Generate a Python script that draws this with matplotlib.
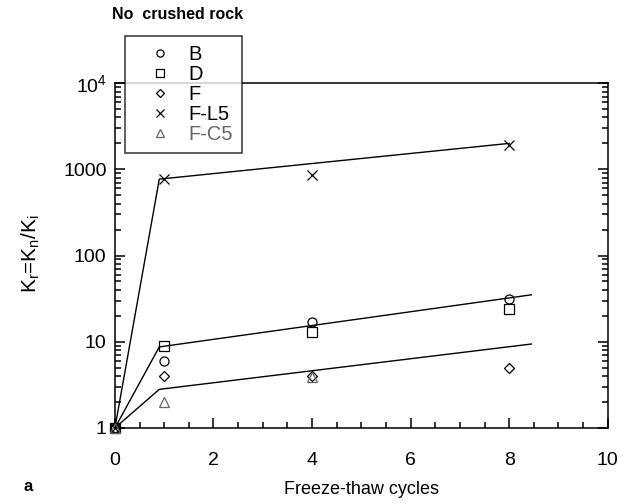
import matplotlib
matplotlib.use('Agg')
import matplotlib.pyplot as plt
from matplotlib.ticker import FixedLocator, FuncFormatter, LogLocator, MultipleLocator

plt.rcParams['font.family'] = ['Liberation Sans', 'DejaVu Sans']
plt.rcParams['mathtext.fontset'] = 'custom'
plt.rcParams['mathtext.rm'] = 'Liberation Sans'
plt.rcParams['mathtext.it'] = 'Liberation Sans'

# measured K_r = K_n / K_i after freeze-thaw cycles
cycles = [0, 1, 4, 8]
kr_B = [1, 6, 17, 31]
kr_D = [1, 9, 13, 24]
kr_F = [1, 4, 4, 5]
kr_FL5 = [1, 780, 860, 1900]
cycles_FC5 = [0, 1, 4]
kr_FC5 = [1, 2, 3.9]

# fitted trend lines
fit_top_x = [0, 0.9, 8.0]
fit_top_y = [1, 770, 2000]
fit_mid_x = [0, 0.9, 8.45]
fit_mid_y = [1, 8.7, 35]
fit_low_x = [0, 0.9, 8.45]
fit_low_y = [1, 2.8, 9.4]

fig = plt.figure(figsize=(6.35, 5.04), dpi=100)
ax = fig.add_axes([0.181, 0.151, 0.776, 0.684])

for fx, fy in [(fit_top_x, fit_top_y), (fit_mid_x, fit_mid_y), (fit_low_x, fit_low_y)]:
    ax.plot(fx, fy, color='black', lw=1.0, zorder=2)

kw = dict(ls='none', mfc='none', clip_on=False, zorder=3)
h1, = ax.plot(cycles, kr_B, marker='o', ms=6.5, mec='black', mew=0.9, label='B', **kw)
h2, = ax.plot(cycles, kr_D, marker='s', ms=6.5, mec='black', mew=0.9, label='D', **kw)
h3, = ax.plot(cycles, kr_F, marker='D', ms=5, mec='black', mew=0.9, label='F', **kw)
h4, = ax.plot(cycles, kr_FL5, marker='x', ms=7.5, mec='black', mew=0.9, label='F-L5', **kw)
h5, = ax.plot(cycles_FC5, kr_FC5, marker='^', ms=6.5, mec='#666666', mew=0.9, label='F-C5', **kw)

ax.set_yscale('log')
ax.set_xlim(0, 10)
ax.set_ylim(1, 1e4)

ax.xaxis.set_major_locator(MultipleLocator(2))
ax.xaxis.set_minor_locator(MultipleLocator(0.5))
ax.yaxis.set_major_locator(FixedLocator([1, 10, 100, 1000, 1e4]))
ax.yaxis.set_minor_locator(LogLocator(base=10, subs=range(2, 10)))
ylabels = {1: '1', 10: '10', 100: '100', 1000: '1000', 10000: r'10$^4$'}
ax.yaxis.set_major_formatter(FuncFormatter(lambda v, p: ylabels.get(int(round(v)), '')))
ax.yaxis.set_minor_formatter(FuncFormatter(lambda v, p: ''))

ax.tick_params(which='both', direction='in', top=False, right=True, labelsize=14, width=1.1)
ax.tick_params(which='major', length=7)
ax.tick_params(which='minor', length=4)
ax.tick_params(axis='x', which='major', pad=17)
ax.tick_params(axis='y', which='major', pad=6)
for s in ax.spines.values():
    s.set_linewidth(1.1)

ax.set_xlabel('Freeze-thaw cycles', fontsize=13, labelpad=9)
ax.set_ylabel(r'K$_r$=K$_n$/K$_i$', fontsize=15)
ax.yaxis.set_label_coords(-0.148, 0.505)

fig.text(0.279, 0.972, 'No  crushed rock', fontsize=11.5, fontweight='bold', ha='center', va='center')
fig.text(0.044, 0.034, 'a', fontsize=12, fontweight='bold', ha='center', va='center')

leg = ax.legend(handles=[h1, h2, h3, h4, h5], loc='upper left',
                bbox_to_anchor=(125 / 635, 1 - 36 / 504), bbox_transform=fig.transFigure,
                frameon=True, fancybox=False, edgecolor='black', fontsize=14.5,
                markerscale=0.8, handlelength=2.55, handletextpad=0.15, labelspacing=0.05,
                borderpad=0.45, borderaxespad=0)
leg.get_frame().set_linewidth(1.1)
leg.get_texts()[4].set_color('#666666')
leg.set_zorder(5)

fig.savefig('out.png', dpi=100)
